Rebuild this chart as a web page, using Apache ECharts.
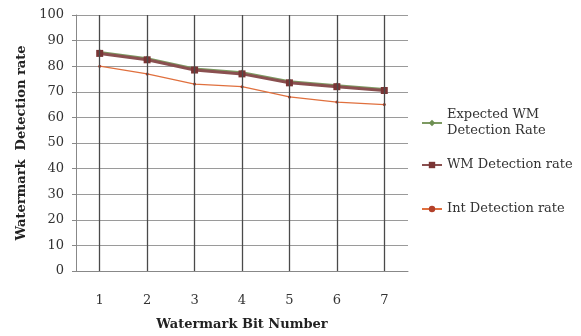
<!DOCTYPE html>
<html>
<head>
<meta charset="utf-8">
<script src="https://cdn.jsdelivr.net/npm/echarts@6/dist/echarts.min.js"></script>
<style>html,body{margin:0;padding:0;background:#fff}#c{width:581px;height:336px}</style>
</head>
<body>
<div id="c"></div>
<script>
var categories = ['1', '2', '3', '4', '5', '6', '7'];
var expectedWM = [85.5, 83, 79, 77.5, 74, 72.5, 71];
var wmDetection = [85, 82.5, 78.5, 77, 73.5, 72, 70.5];
var intDetection = [80, 77, 73, 72, 68, 66, 65];
var yTicks = { min: 0, max: 100, interval: 10 };

var serif = '"DejaVu Serif", "Liberation Serif", serif';
var chart = echarts.init(document.getElementById('c'));
var vLines = categories.map(function (c) { return { xAxis: c }; });

chart.setOption({
  animation: false,
  backgroundColor: '#fff',
  grid: { left: 76, right: 173, top: 15, bottom: 63 },
  legend: [
    { data: ['Expected WM'], orient: 'vertical', left: 421, top: 99, padding: 0,
      itemWidth: 20, itemHeight: 8, itemGap: 3,
      formatter: function () { return 'Expected WM\nDetection Rate'; },
      textStyle: { fontFamily: serif, fontSize: 13, color: '#333', lineHeight: 16, padding: [16, 0, 0, 0] } },
    { data: ['WM Detection rate'], orient: 'vertical', left: 421, top: 157, padding: 0,
      itemWidth: 20, itemHeight: 8, itemGap: 3,
      textStyle: { fontFamily: serif, fontSize: 13, color: '#333', lineHeight: 16 } },
    { data: ['Int Detection rate'], orient: 'vertical', left: 421, top: 201, padding: 0,
      itemWidth: 20, itemHeight: 8, itemGap: 3,
      textStyle: { fontFamily: serif, fontSize: 13, color: '#333', lineHeight: 16 } }
  ],
  xAxis: {
    type: 'category', data: categories, boundaryGap: true,
    name: 'Watermark Bit Number', nameLocation: 'middle', nameGap: 47,
    nameTextStyle: { fontFamily: serif, fontSize: 13, fontWeight: 'bold', color: '#222' },
    axisLine: { lineStyle: { color: '#888', width: 1 } },
    axisTick: { alignWithLabel: true, length: 4, lineStyle: { color: '#888' } },
    axisLabel: { margin: 23, fontFamily: serif, fontSize: 13, color: '#333' },
    splitLine: { show: false }
  },
  yAxis: {
    type: 'value', min: yTicks.min, max: yTicks.max, interval: yTicks.interval,
    name: 'Watermark  Detection rate', nameLocation: 'middle', nameGap: 48,
    nameTextStyle: { fontFamily: serif, fontSize: 13, fontWeight: 'bold', color: '#222' },
    axisLine: { show: true, lineStyle: { color: '#888', width: 1 } },
    axisTick: { show: true, length: 4, lineStyle: { color: '#888' } },
    axisLabel: { margin: 12, fontFamily: serif, fontSize: 13, color: '#333' },
    splitLine: { show: true, lineStyle: { color: '#9a9a9a', width: 1 } }
  },
  series: [
    { name: 'Expected WM', type: 'line', data: expectedWM, z: 3,
      symbol: 'diamond', symbolSize: 6,
      itemStyle: { color: '#6d8f52' }, lineStyle: { color: '#7d9a62', width: 2.5 },
      markLine: { silent: true, symbol: 'none', label: { show: false }, animation: false,
        lineStyle: { color: '#4a4a4a', width: 1.3, type: 'solid' }, data: vLines } },
    { name: 'WM Detection rate', type: 'line', data: wmDetection, z: 4,
      symbol: 'rect', symbolSize: 7,
      itemStyle: { color: '#7a3535' }, lineStyle: { color: '#8a5050', width: 3 } },
    { name: 'Int Detection rate', type: 'line', data: intDetection, z: 4,
      symbol: 'circle', symbolSize: 3,
      itemStyle: { color: '#b2402a' }, lineStyle: { color: '#e0703e', width: 1.3 } }
  ]
});
</script>
</body>
</html>
